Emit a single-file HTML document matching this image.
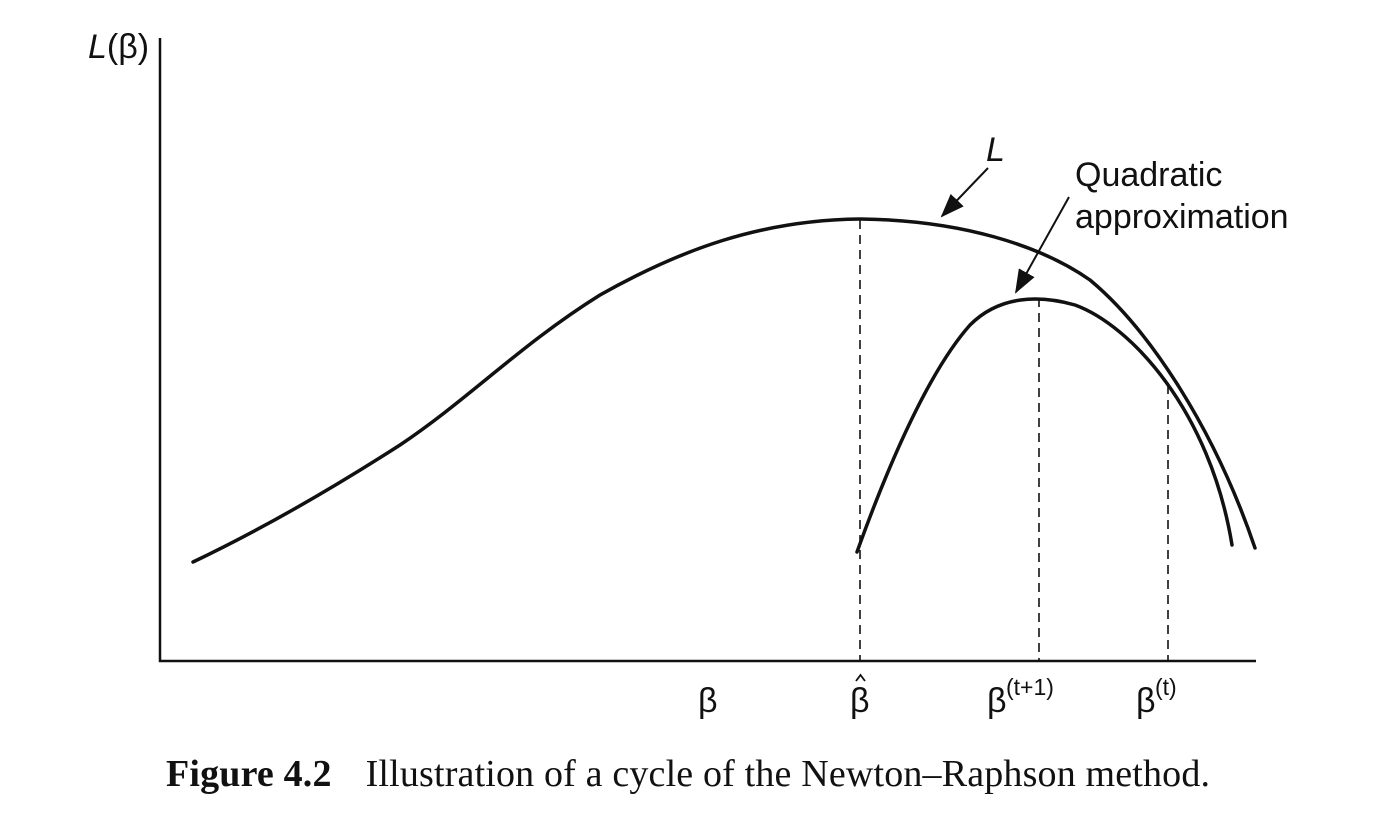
<!DOCTYPE html>
<html><head><style>body{margin:0;background:#fff}svg{display:block}</style></head>
<body>
<svg width="1400" height="824" viewBox="0 0 1400 824" xmlns="http://www.w3.org/2000/svg">
<defs>
<marker id="a2" markerWidth="24" markerHeight="20" refX="22" refY="10" orient="auto" markerUnits="userSpaceOnUse"><path d="M0,1 L24,10 L0,19 z" fill="#111"/></marker></defs>
<g stroke="#111" fill="none" stroke-width="2.5">
<path d="M160,38 V661 H1256"/>
</g>
<g stroke="#111" fill="none" stroke-width="1.6" stroke-dasharray="9,6">
<path d="M860,220 V660"/><path d="M1039,298 V660"/><path d="M1168,385 V660"/>
</g>
<g stroke="#111" fill="none" stroke-width="3.5" stroke-linecap="round">
<path d="M193,562 C260,530 330,490 400,445 C470,398 520,345 600,295 C680,250 760,220 860,219 C960,220 1040,245 1090,280 C1150,330 1215,430 1255,548"/>
<path d="M857,552 C890,460 930,370 970,325 C1000,295 1040,295 1075,305 C1130,325 1210,410 1232,545"/>
</g>
<g stroke="#111" stroke-width="2">
<line x1="988" y1="168" x2="942" y2="216" marker-end="url(#a2)"/>
<line x1="1069" y1="197" x2="1016" y2="292" marker-end="url(#a2)"/>
</g>
<path d="M856,681 L860.5,675 L865,681" stroke="#111" stroke-width="1.8" fill="none"/>
<g font-family="Liberation Sans, sans-serif" fill="#111" font-size="34">
<text x="88" y="58"><tspan font-style="italic">L</tspan>(β)</text>
<text x="986" y="161" font-style="italic">L</text>
<text x="1075" y="186">Quadratic</text>
<text x="1075" y="228">approximation</text>
<text x="698" y="712">β</text>
<text x="850" y="712">β</text>
<text x="987" y="712">β</text><text x="1006" y="695" font-size="23">(t+1)</text>
<text x="1136" y="712">β</text><text x="1155" y="695" font-size="23">(t)</text>
</g>
<text x="166" y="786" font-family="Liberation Serif, serif" font-size="38" fill="#111" textLength="1044" lengthAdjust="spacing"><tspan font-weight="bold">Figure 4.2</tspan><tspan dx="34">Illustration of a cycle of the Newton–Raphson method.</tspan></text>
</svg>
</body></html>
